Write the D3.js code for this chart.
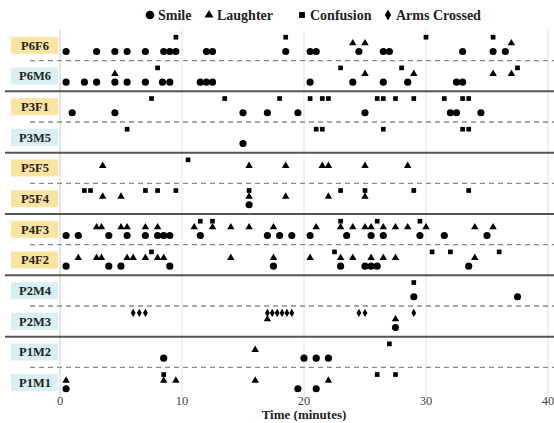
<!DOCTYPE html>
<html lang="en">
  <head>
    <meta charset="utf-8">
    <title>Expressions over time</title>
    <style>
      body { margin: 0; background: #fff; }
      svg text { font-family: "Liberation Serif", "DejaVu Serif", serif; }
    </style>
  </head>
  <body>
    <div class="chart"></div>

    <script src="https://cdn.jsdelivr.net/npm/d3@7"></script>
    <script type="text/javascript">
      // rows, top to bottom, grouped in pairs (one panel per pair)
      var participants = ["P6F6", "P6M6", "P3F1", "P3M5", "P5F5", "P5F4",
                          "P4F3", "P4F2", "P2M4", "P2M3", "P1M2", "P1M1"];
      var expressions = ["Smile", "Laughter", "Confusion", "Arms Crossed"];
      var xTicks = [0, 10, 20, 30, 40];

      // times (minutes)
      var smileTimes = {
        P6F6: [0.5, 3, 4.5, 5.5, 7, 8.5, 9, 9.5, 12, 12.5, 18.5, 20.5, 21, 24.5, 26.5, 27, 33, 35.5, 36.5],
        P6M6: [0.5, 2, 3, 4.5, 5.5, 7, 8.4, 9, 11.5, 12, 12.5, 20.5, 24, 26.5, 28.5, 32.5, 33],
        P3F1: [1, 4.5, 15, 17, 19.5, 25, 32, 32.5, 34.5],
        P3M5: [15],
        P5F5: [],
        P5F4: [15.5],
        P4F3: [0.5, 1.5, 4, 5.5, 7, 8, 8.5, 9, 11.5, 17, 18, 19, 20.5, 23.5, 25.5, 26.5, 29.5, 31.5, 35],
        P4F2: [0.5, 4, 5, 9, 17.5, 23, 25, 25.5, 26, 33.5],
        P2M4: [29, 37.5],
        P2M3: [27.5],
        P1M2: [8.5, 20, 21, 22],
        P1M1: [0.5, 19.5, 21]
      };
      var laughterTimes = {
        P6F6: [24, 25, 37],
        P6M6: [4.5, 25, 29, 35.5, 37],
        P3F1: [],
        P3M5: [],
        P5F5: [3.5, 15.5, 18.5, 21.5, 22, 25, 28.5],
        P5F4: [3.5, 5, 15.5, 18.5, 22, 25],
        P4F3: [3, 3.4, 5, 5.5, 7, 8, 11, 12.5, 14, 15.5, 17.5, 21, 23, 24, 25, 25.5, 26.5, 27.5, 28.5, 30, 34, 35.5],
        P4F2: [1.5, 3, 3.4, 5.5, 6, 7, 8, 8.5, 14, 17.5, 20.5, 23, 24, 25.5, 26.5, 27.5, 34],
        P2M4: [],
        P2M3: [17, 27.5],
        P1M2: [16],
        P1M1: [0.5, 8.5, 9.5, 16, 22]
      };
      var confusionTimes = {
        P6F6: [9.5, 18.5, 30, 35.5],
        P6M6: [8, 23, 28, 37.5],
        P3F1: [7.5, 13.5, 18, 20.5, 21.5, 22, 26, 26.5, 27.5, 29, 31.5, 33, 33.5],
        P3M5: [5.5, 21, 21.5, 26.5, 33, 33.5],
        P5F5: [10.5],
        P5F4: [2, 2.5, 7, 8, 9.5, 15.5, 23, 25, 29, 33.5],
        P4F3: [11.5, 12.5, 23, 26, 29.5],
        P4F2: [7.5, 22.5, 30.5, 32, 36],
        P2M4: [29],
        P2M3: [],
        P1M2: [27],
        P1M1: [8.5, 26, 27.5]
      };
      var armsTimes = {
        P6F6: [], P6M6: [], P3F1: [], P3M5: [], P5F5: [], P5F4: [],
        P4F3: [], P4F2: [], P2M4: [],
        P2M3: [6, 6.5, 7, 17, 17.4, 17.8, 18.2, 18.6, 19, 24.5, 25, 29],
        P1M2: [], P1M1: []
      };

      var width = 554, height = 423;
      var plotTop = 30, plotBottom = 398;

      var svg = d3.select(".chart")
        .append("svg")
          .attr("width", width)
          .attr("height", height);

      var x = d3.scaleLinear().domain([0, 40]).range([60, 548]);
      var y = d3.scaleBand().domain(participants).range([plotTop, plotBottom]);

      // vertical offset of each expression inside its row
      var offset = d3.scaleOrdinal()
          .domain(expressions)
          .range([0.70, 0.43, 0.235, 0.225]);

      var symbolType = d3.scaleOrdinal()
          .domain(expressions)
          .range([d3.symbolCircle, d3.symbolTriangle, d3.symbolSquare, d3.symbolDiamond]);
      var symbolSize = d3.scaleOrdinal()
          .domain(expressions)
          .range([40, 24, 22, 20]);

      // gridlines
      svg.append("g")
          .selectAll("line")
          .data(xTicks)
          .enter().append("line")
          .attr("x1", function(d) { return x(d); })
          .attr("x2", function(d) { return x(d); })
          .attr("y1", plotTop)
          .attr("y2", plotBottom)
          .attr("stroke", function(d) { return d === 0 ? "#d4d4d4" : "#e6e6e6"; })
          .attr("stroke-width", 1.2);

      // participant labels
      var labels = svg.append("g")
          .selectAll("g")
          .data(participants)
          .enter().append("g")
          .attr("transform", function(d) { return "translate(0," + (y(d) + y.bandwidth() / 2) + ")"; });

      labels.append("rect")
          .attr("x", 11)
          .attr("y", -8.5)
          .attr("width", 47)
          .attr("height", 17)
          .attr("fill", function(d) { return d.charAt(2) === "F" ? "#fbe3a0" : "#d8eff3"; });

      labels.append("text")
          .attr("x", 35)
          .attr("dy", "0.35em")
          .attr("text-anchor", "middle")
          .attr("font-size", 12.5)
          .attr("font-weight", "bold")
          .attr("fill", "#222")
          .text(function(d) { return d; });

      // dashed line inside each panel, solid line between panels
      var dividers = participants.slice(1).map(function(p, i) { return { p: p, solid: i % 2 === 1 }; });

      svg.append("g")
          .selectAll("line")
          .data(dividers)
          .enter().append("line")
          .attr("x1", function(d) { return d.solid ? 5 : 30; })
          .attr("x2", width)
          .attr("y1", function(d) { return y(d.p); })
          .attr("y2", function(d) { return y(d.p); })
          .attr("stroke", function(d) { return d.solid ? "#555" : "#8a8a8a"; })
          .attr("stroke-width", function(d) { return d.solid ? 2 : 1.4; })
          .attr("stroke-dasharray", function(d) { return d.solid ? null : "5,4"; });

      // marks
      var series = [
        { name: "Smile", times: smileTimes },
        { name: "Laughter", times: laughterTimes },
        { name: "Confusion", times: confusionTimes },
        { name: "Arms Crossed", times: armsTimes }
      ];

      var points = [];
      series.forEach(function(s) {
        participants.forEach(function(p) {
          s.times[p].forEach(function(t) { points.push({ type: s.name, p: p, t: t }); });
        });
      });

      svg.append("g")
          .selectAll("path")
          .data(points)
          .enter().append("path")
          .attr("transform", function(d) {
            return "translate(" + x(d.t) + "," + (y(d.p) + y.bandwidth() * offset(d.type)) + ")";
          })
          .attr("d", function(d) { return d3.symbol().type(symbolType(d.type)).size(symbolSize(d.type))(); })
          .attr("fill", "#000");

      // x axis labels
      svg.append("g")
          .selectAll("text")
          .data(xTicks)
          .enter().append("text")
          .attr("x", function(d) { return x(d); })
          .attr("y", 405)
          .attr("text-anchor", "middle")
          .attr("font-size", 12.5)
          .attr("fill", "#444")
          .text(function(d) { return d; });

      svg.append("text")
          .attr("x", x(20))
          .attr("y", 419)
          .attr("text-anchor", "middle")
          .attr("font-size", 13)
          .attr("font-weight", "bold")
          .attr("fill", "#222")
          .text("Time (minutes)");

      // legend
      var legendX = [150, 209, 302, 388];
      var legend = svg.append("g")
          .selectAll("g")
          .data(expressions)
          .enter().append("g")
          .attr("transform", function(d, i) { return "translate(" + legendX[i] + ",15)"; });

      legend.append("path")
          .attr("d", function(d) {
            return d3.symbol().type(symbolType(d)).size(d === "Smile" ? 60 : 34)();
          })
          .attr("fill", "#000");

      legend.append("text")
          .attr("x", 8)
          .attr("dy", "0.35em")
          .attr("font-size", 14)
          .attr("font-weight", "bold")
          .attr("fill", "#222")
          .text(function(d) { return d; });
    </script>
  </body>
</html>
